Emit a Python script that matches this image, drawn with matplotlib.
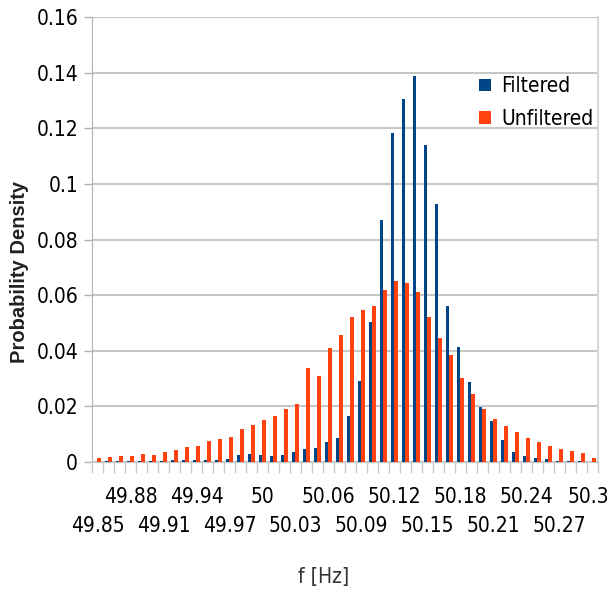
import matplotlib
matplotlib.use("Agg")
import matplotlib.pyplot as plt
from matplotlib.patches import Patch
from matplotlib import font_manager
from matplotlib.font_manager import FontProperties
import numpy as np

# Frequency bins [Hz]
freq_labels = ["49.85", "49.86", "49.87", "49.88", "49.89", "49.9", "49.91", "49.92",
               "49.93", "49.94", "49.95", "49.96", "49.97", "49.98", "49.99", "50",
               "50.01", "50.02", "50.03", "50.04", "50.05", "50.06", "50.07", "50.08",
               "50.09", "50.1", "50.11", "50.12", "50.13", "50.14", "50.15", "50.16",
               "50.17", "50.18", "50.19", "50.2", "50.21", "50.22", "50.23", "50.24",
               "50.25", "50.26", "50.27", "50.28", "50.29", "50.3"]

filtered = [0.0, 0.0002, 0.0003, 0.0002, 0.0003, 0.0003, 0.0003, 0.0006,
            0.0006, 0.0006, 0.0006, 0.0008, 0.0012, 0.0025, 0.0029, 0.0025,
            0.0021, 0.0025, 0.0037, 0.0047, 0.0052, 0.0073, 0.0085, 0.0165,
            0.0293, 0.0505, 0.0869, 0.1182, 0.1305, 0.1388, 0.1139, 0.0928,
            0.0560, 0.0413, 0.0289, 0.0198, 0.0146, 0.0078, 0.0037, 0.0022,
            0.0016, 0.0012, 0.0003, 0.0003, 0.0003, 0.0]

unfiltered = [0.0015, 0.0017, 0.0021, 0.0020, 0.0028, 0.0027, 0.0037, 0.0044,
              0.0055, 0.0059, 0.0077, 0.0084, 0.0091, 0.0117, 0.0134, 0.0150,
              0.0165, 0.0192, 0.0208, 0.0337, 0.0311, 0.0410, 0.0456, 0.0523,
              0.0546, 0.0561, 0.0618, 0.0651, 0.0644, 0.0613, 0.0523, 0.0447,
              0.0384, 0.0302, 0.0244, 0.0191, 0.0156, 0.0130, 0.0109, 0.0086,
              0.0073, 0.0059, 0.0047, 0.0038, 0.0031, 0.0016]

y_ticks = [0, 0.02, 0.04, 0.06, 0.08, 0.1, 0.12, 0.14, 0.16]
y_tick_labels = ["0", "0.02", "0.04", "0.06", "0.08", "0.1", "0.12", "0.14", "0.16"]

series_names = ["Filtered", "Unfiltered"]
colors = ["#004586", "#ff420e"]


def narrow_font(size):
    """Pick a condensed sans face if one is installed."""
    files = [f.fname for f in font_manager.fontManager.ttflist]
    for key in ("LiberationSansNarrow-Regular", "DejaVuSansCondensed.ttf"):
        for fn in files:
            if key in fn:
                return FontProperties(fname=fn, size=size)
    return FontProperties(family="Liberation Sans", size=size - 1.5)


fp_tick = narrow_font(15)

fig = plt.figure(figsize=(6.10, 5.94), dpi=100)
ax = fig.add_axes([0.1508, 0.2222, 0.8295, 0.7492])

x = np.arange(len(freq_labels))
w = 0.36
ax.bar(x - w / 2, filtered, width=w, color=colors[0], linewidth=0, zorder=3)
ax.bar(x + w / 2, unfiltered, width=w, color=colors[1], linewidth=0, zorder=3)

ax.set_xlim(-0.5, len(freq_labels) - 0.5)
ax.set_ylim(0, 0.16)

# horizontal grid
ax.set_yticks(y_ticks)
ax.set_yticklabels(y_tick_labels, fontproperties=fp_tick)
ax.yaxis.grid(True, color="#c8c8c8", linewidth=1.5, zorder=0)
ax.set_axisbelow(True)
ax.tick_params(axis="y", length=6, color="#b3b3b3", width=1, pad=4)

# x tick marks at bin edges
ax.set_xticks(np.arange(len(freq_labels) + 1) - 0.5)
ax.set_xticklabels([])
ax.tick_params(axis="x", which="major", length=8, color="#c8c8c8", width=1)

# bin labels every third bin, staggered over two rows
label_idx = list(range(0, len(freq_labels), 3))
for k, i in enumerate(label_idx):
    offset = -25 if k % 2 == 1 else -46
    dx = -3 if i == label_idx[-1] else 0   # keep the last label inside the canvas
    ax.annotate(freq_labels[i], xy=(x[i], 0), xycoords=("data", "axes fraction"),
                xytext=(dx, offset), textcoords="offset points",
                ha="center", va="center", fontproperties=fp_tick, annotation_clip=False)

ax.spines["top"].set_visible(False)
ax.spines["bottom"].set_color("#c8c8c8")
ax.spines["bottom"].set_linewidth(1.5)
ax.spines["left"].set_color("#b3b3b3")
ax.spines["right"].set_color("#d8d8d8")
ax.spines["right"].set_linewidth(1.5)

ax.set_xlabel("f [Hz]", fontproperties=fp_tick, color="#333333")
ax.xaxis.set_label_coords(0.4585, -0.236)
ax.set_ylabel("Probability Density", fontfamily="Liberation Sans", fontsize=14.5,
              fontweight="bold", color="#222222")
ax.yaxis.set_label_coords(-0.125, 0.427)

handles = [Patch(facecolor=c, edgecolor="none") for c in colors]
leg = ax.legend(handles, series_names, loc="upper left", bbox_to_anchor=(0.745, 0.89),
                frameon=False, prop=fp_tick,
                handlelength=0.55, handleheight=0.55, handletextpad=0.5,
                labelspacing=0.6, borderpad=0)

fig.savefig("out.png", dpi=100)
